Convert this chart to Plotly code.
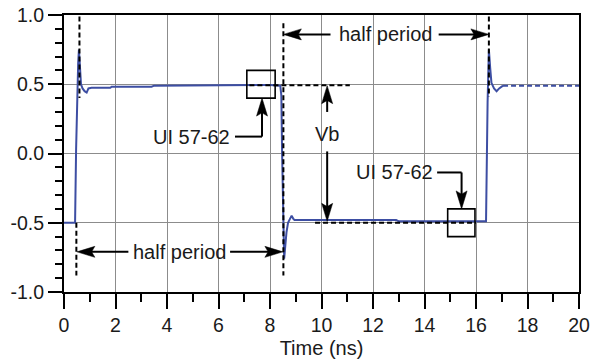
import math
import plotly.graph_objects as go

# ---- data ----
time_ns = [0.0, 0.43, 0.47, 0.51, 0.55, 0.58, 0.62, 0.66, 0.72, 0.80, 0.88, 0.95, 1.07, 1.80, 1.85,
           3.40, 3.50, 8.00, 8.40, 8.44, 8.47, 8.51, 8.55, 8.64, 8.70, 8.78, 8.84, 8.90, 8.95,
           12.90, 13.00, 16.30, 16.39, 16.45, 16.50, 16.55, 16.60, 16.70, 16.80, 16.90, 17.05]
volts = [-0.50, -0.50, 0.03, 0.40, 0.65, 0.75, 0.62, 0.50, 0.47, 0.45, 0.44, 0.47, 0.475, 0.475, 0.482,
         0.482, 0.49, 0.495, 0.49, 0.42, 0.00, -0.48, -0.76, -0.57, -0.50, -0.47, -0.45, -0.47, -0.48,
         -0.48, -0.49, -0.49, -0.49, 0.37, 0.75, 0.62, 0.51, 0.47, 0.45, 0.47, 0.49]
tail_time = [17.05, 20.0]
tail_volts = [0.49, 0.49]

x_ticks = [0, 2, 4, 6, 8, 10, 12, 14, 16, 18, 20]
y_ticks = [-1.0, -0.5, 0.0, 0.5, 1.0]

BLUE = "#3d4ea3"
FONT = "Liberation Sans, Arial, sans-serif"
TXT = 20
TICK = 19.5

fig = go.Figure()
fig.add_trace(go.Scatter(x=time_ns, y=volts, mode="lines",
                         line=dict(color=BLUE, width=2), showlegend=False, hoverinfo="skip"))
fig.add_trace(go.Scatter(x=tail_time, y=tail_volts, mode="lines",
                         line=dict(color=BLUE, width=2, dash="5px,3px"), showlegend=False, hoverinfo="skip"))

shapes = []
DASH = dict(color="black", width=2, dash="5px,3px")
SOLID = dict(color="black", width=2)


def seg(x0, y0, x1, y1, line):
    shapes.append(dict(type="line", xref="x", yref="y", x0=x0, y0=y0, x1=x1, y1=y1, line=line))


def head(x, y, dx, dy, L=18, W=5.5):
    pts = [(0, 0), (-L, W), (-0.82 * L, 0), (-L, -W)]
    rp = [(a * dx - b * dy, a * dy + b * dx) for a, b in pts]
    path = "M " + " L ".join(f"{px:.2f},{py:.2f}" for px, py in rp) + " Z"
    shapes.append(dict(type="path", xref="x", yref="y", xsizemode="pixel", ysizemode="pixel",
                       xanchor=x, yanchor=y, path=path,
                       fillcolor="black", line=dict(color="black", width=0.5)))


# dashed reference lines
seg(0.6, 0.99, 0.6, 0.40, DASH)
seg(0.48, -0.50, 0.48, -0.88, DASH)
seg(8.52, 0.94, 8.52, -0.88, DASH)
seg(16.5, 0.99, 16.5, 0.41, DASH)
seg(7.2, 0.493, 11.1, 0.493, DASH)
seg(9.75, -0.50, 16.0, -0.50, DASH)

# boxes
shapes.append(dict(type="rect", xref="x", yref="y", x0=7.1, x1=8.2, y0=0.40, y1=0.60,
                   line=dict(color="black", width=1.6)))
shapes.append(dict(type="rect", xref="x", yref="y", x0=14.9, x1=15.96, y0=-0.60, y1=-0.40,
                   line=dict(color="black", width=1.6)))

# half period (top)
seg(10.35, 0.86, 8.9, 0.86, SOLID); head(8.52, 0.86, -1, 0)
seg(14.55, 0.86, 16.1, 0.86, SOLID); head(16.5, 0.86, 1, 0)
# half period (bottom)
seg(2.5, -0.71, 0.9, -0.71, SOLID); head(0.5, -0.71, -1, 0)
seg(6.45, -0.71, 8.1, -0.71, SOLID); head(8.5, -0.71, 1, 0)
# UI 57-62 (upper)
seg(6.64, 0.122, 7.69, 0.122, SOLID)
seg(7.69, 0.122, 7.69, 0.35, SOLID); head(7.69, 0.40, 0, 1)
# UI 57-62 (lower)
seg(14.49, -0.137, 15.44, -0.137, SOLID)
seg(15.44, -0.137, 15.44, -0.33, SOLID); head(15.44, -0.40, 0, -1)
# Vb
seg(10.22, 0.30, 10.22, 0.40, SOLID); head(10.22, 0.49, 0, 1)
seg(10.22, 0.015, 10.22, -0.40, SOLID); head(10.22, -0.49, 0, -1)

annotations = [
    dict(x=12.47, y=0.86, text="half period"),
    dict(x=4.48, y=-0.71, text="half period"),
    dict(x=4.97, y=0.122, text="UI 57-62"),
    dict(x=12.83, y=-0.137, text="UI 57-62"),
    dict(x=10.22, y=0.144, text="Vb"),
]
for a in annotations:
    a.update(xref="x", yref="y", showarrow=False, font=dict(family=FONT, size=TXT, color="#1a1a1a"))

fig.update_layout(
    width=592, height=360,
    margin=dict(l=64, r=13, t=15, b=68, autoexpand=False),
    paper_bgcolor="white", plot_bgcolor="white",
    shapes=shapes, annotations=annotations,
    font=dict(family=FONT, size=TXT, color="#1a1a1a"),
)
fig.update_xaxes(range=[0, 20], tickvals=x_ticks, ticktext=[str(v) for v in x_ticks], automargin=False,
                 ticks="outside", ticklen=15, tickwidth=2, tickcolor="black",
                 showline=True, linewidth=2, linecolor="black", mirror=True,
                 showgrid=True, gridcolor="#8c8c8c", gridwidth=1, zeroline=False,
                 minor=dict(dtick=1, tick0=0, ticks="outside", ticklen=8, tickwidth=2, tickcolor="black", showgrid=False),
                 tickfont=dict(size=TICK), title=dict(text="Time (ns)", font=dict(size=TXT), standoff=6))
fig.update_yaxes(range=[-1, 1], tickvals=y_ticks, ticktext=[f"{v:.1f}" for v in y_ticks], automargin=False,
                 ticks="outside", ticklen=14, tickwidth=2, tickcolor="black",
                 showline=True, linewidth=2, linecolor="black", mirror=True,
                 showgrid=True, gridcolor="#8c8c8c", gridwidth=1, zeroline=False,
                 minor=dict(dtick=0.1, tick0=0, ticks="outside", ticklen=7, tickwidth=2, tickcolor="black", showgrid=False),
                 tickfont=dict(size=TICK))

fig.write_html("out.html")
